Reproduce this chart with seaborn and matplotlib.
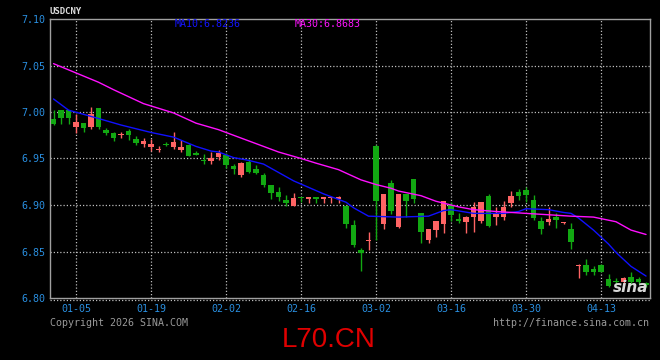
import matplotlib
matplotlib.use("Agg")
import numpy as np
import pandas as pd
import seaborn as sns
import matplotlib.pyplot as plt
import matplotlib.transforms as mtransforms

# ---------------- data ----------------
dates = pd.bdate_range("2025-12-31", periods=80)

open_ = [6.9928, 7.0022, 7.0022, 6.9842, 6.9878, 6.9842, 7.0040, 6.9806, 6.9771, 6.9750,
         6.9799, 6.9706, 6.9653, 6.9620, 6.9588, 6.9656, 6.9627, 6.9591, 6.9645, 6.9559,
         6.9481, 6.9473, 6.9516, 6.9538, 6.9423, 6.9323, 6.9459, 6.9384, 6.9323, 6.9215,
         6.9143, 6.9054, 6.8989, 6.9089, 6.9068, 6.9089, 6.9068, 6.9072, 6.9065, 6.8989,
         6.8785, 6.8516, 6.8613, 6.9634, 6.8796, 6.9240, 6.8760, 6.9118, 6.9280, 6.8911,
         6.8624, 6.8731, 6.8796, 6.9000, 6.8846, 6.8820, 6.8874, 6.8831, 6.9097, 6.8868,
         6.8868, 6.9018, 6.9137, 6.9161, 6.9054, 6.8831, 6.8820, 6.8874, 6.8806, 6.8742,
         6.8344, 6.8355, 6.8312, 6.8355, 6.8204, 6.8179, 6.8169, 6.8229, 6.8204, 6.8151]

close_ = [6.9871, 6.9935, 6.9935, 6.9889, 6.9831, 6.9978, 6.9842, 6.9771, 6.9724, 6.9760,
          6.9753, 6.9663, 6.9691, 6.9653, 6.9602, 6.9648, 6.9674, 6.9627, 6.9530, 6.9538,
          6.9473, 6.9502, 6.9559, 6.9430, 6.9387, 6.9452, 6.9358, 6.9347, 6.9215, 6.9126,
          6.9089, 6.9025, 6.9072, 6.9072, 6.9089, 6.9068, 6.9089, 6.9086, 6.9081, 6.8796,
          6.8570, 6.8480, 6.8624, 6.9043, 6.9118, 6.8935, 6.9118, 6.9043, 6.9064, 6.8713,
          6.8742, 6.8828, 6.9043, 6.8892, 6.8831, 6.8868, 6.8982, 6.9035, 6.8777, 6.8911,
          6.8982, 6.9097, 6.9097, 6.9108, 6.8863, 6.8739, 6.8846, 6.8839, 6.8820, 6.8599,
          6.8350, 6.8283, 6.8283, 6.8283, 6.8132, 6.8172, 6.8212, 6.8169, 6.8175, 6.8145]

high_ = [7.0025, 7.0022, 7.0022, 6.9978, 6.9878, 7.0057, 7.0040, 6.9825, 6.9782, 6.9788,
         6.9817, 6.9742, 6.9717, 6.9706, 6.9638, 6.9681, 6.9788, 6.9699, 6.9653, 6.9581,
         6.9545, 6.9567, 6.9591, 6.9556, 6.9438, 6.9459, 6.9491, 6.9430, 6.9347, 6.9215,
         6.9197, 6.9108, 6.9126, 6.9089, 6.9089, 6.9089, 6.9089, 6.9086, 6.9102, 6.8989,
         6.8839, 6.8534, 6.8713, 6.9645, 6.9118, 6.9269, 6.9118, 6.9118, 6.9280, 6.8911,
         6.8742, 6.8828, 6.9046, 6.9035, 6.8911, 6.8882, 6.9035, 6.9035, 6.9118, 6.8982,
         6.9046, 6.9154, 6.9169, 6.9197, 6.9108, 6.8868, 6.8982, 6.8911, 6.8820, 6.8803,
         6.8362, 6.8419, 6.8344, 6.8366, 6.8258, 6.8218, 6.8229, 6.8283, 6.8229, 6.8169]

low_ = [6.9863, 6.9871, 6.9871, 6.9771, 6.9781, 6.9820, 6.9820, 6.9753, 6.9691, 6.9717,
        6.9699, 6.9642, 6.9627, 6.9584, 6.9567, 6.9631, 6.9602, 6.9573, 6.9530, 6.9534,
        6.9438, 6.9438, 6.9484, 6.9401, 6.9330, 6.9304, 6.9347, 6.9333, 6.9197, 6.9064,
        6.9046, 6.8989, 6.8989, 6.9035, 6.9025, 6.9025, 6.9025, 6.9025, 6.9025, 6.8750,
        6.8552, 6.8293, 6.8516, 6.8624, 6.8742, 6.8903, 6.8750, 6.8874, 6.9025, 6.8595,
        6.8588, 6.8653, 6.8702, 6.8831, 6.8803, 6.8696, 6.8713, 6.8803, 6.8760, 6.8785,
        6.8839, 6.8982, 6.9054, 6.9035, 6.8839, 6.8688, 6.8785, 6.8749, 6.8792, 6.8527,
        6.8212, 6.8247, 6.8247, 6.8276, 6.8121, 6.8140, 6.8140, 6.8140, 6.8151, 6.8121]

ma10_idx = [0, 2, 6, 9, 13, 16, 19, 21, 22, 24, 26, 28, 30, 32, 34, 36, 37, 39, 40, 42,
            46, 50, 52, 53, 56, 58, 60, 62, 63, 66, 68, 69, 70, 72, 74, 75, 77, 79]
ma10 = [7.014, 7.002, 6.993, 6.986, 6.978, 6.973, 6.963, 6.958, 6.957, 6.951,
        6.948, 6.944, 6.935, 6.926, 6.919, 6.912, 6.909, 6.903, 6.897, 6.888,
        6.887, 6.888, 6.894, 6.895, 6.891, 6.891, 6.891, 6.893, 6.896, 6.895,
        6.892, 6.891, 6.886, 6.873, 6.858, 6.849, 6.834, 6.8236]

ma30_idx = [0, 6, 8, 12, 16, 19, 22, 24, 27, 30, 33, 35, 38, 41, 43, 45, 46, 49, 51, 54,
            56, 59, 61, 63, 67, 69, 72, 75, 77, 79]
ma30 = [7.052, 7.032, 7.024, 7.009, 6.999, 6.988, 6.981, 6.975, 6.966, 6.957,
        6.950, 6.945, 6.938, 6.927, 6.922, 6.918, 6.915, 6.910, 6.904, 6.898,
        6.895, 6.893, 6.892, 6.891, 6.889, 6.888, 6.887, 6.882, 6.873, 6.8683]

y_ticks = [6.80, 6.85, 6.90, 6.95, 7.00, 7.05, 7.10]
x_tick_labels = ["01-05", "01-19", "02-02", "02-16", "03-02", "03-16", "03-30", "04-13"]

# ---------------- style ----------------
sns.set_style("dark", rc={"axes.facecolor": "black", "figure.facecolor": "black"})
plt.rcParams["font.family"] = ["DejaVu Sans Mono", "DejaVu Sans"]

UP = "#ff6464"
DOWN = "#12a812"
TICK_BLUE = "#2a8fe0"
GRID = "#bdbdbd"
SPINE = "#a0a0a0"
MONO = 7.2

fig = plt.figure(figsize=(6.6, 3.6), dpi=100)
fig.patch.set_facecolor("black")
ax = fig.add_axes([50 / 660, 62 / 360, 600 / 660, 279 / 360])
ax.set_facecolor("black")
ax.grid(False)

df = pd.DataFrame({"date": dates, "open": open_, "high": high_, "low": low_, "close": close_})
df["i"] = np.arange(len(df))
df["up"] = df["close"] >= df["open"]
df["color"] = np.where(df["up"], UP, DOWN)
df["bottom"] = df[["open", "close"]].min(axis=1)
df["height"] = (df["close"] - df["open"]).abs().clip(lower=0.0011)

# gridlines
dots = (0, (1, 1.6))
for yv in y_ticks[1:-1]:
    ax.axhline(yv, color=GRID, lw=0.9, ls=dots, zorder=0.5)
tick_pos = [int(np.where(df["date"].dt.strftime("%m-%d") == lab)[0][0]) for lab in x_tick_labels]
for xv in tick_pos:
    ax.axvline(xv, color=GRID, lw=0.9, ls=dots, zorder=0.5)
# dotted line just below the bottom frame
off = mtransforms.offset_copy(ax.transAxes, fig=fig, x=0, y=-2, units="dots")
ax.plot([0, 1], [0, 0], transform=off, color=GRID, lw=0.9, ls=dots, clip_on=False)

# candles
ax.vlines(df["i"], df["low"], df["high"], colors=df["color"], lw=1.0, zorder=2)
ax.bar(df["i"], df["height"], bottom=df["bottom"], width=0.78, color=df["color"],
       linewidth=0, zorder=3)

# moving averages
sns.lineplot(x=ma10_idx, y=ma10, ax=ax, color="#1010ff", lw=1.0, zorder=4)
sns.lineplot(x=ma30_idx, y=ma30, ax=ax, color="#ff10ff", lw=1.0, zorder=4)

ax.set_xlim(-0.47, 79.53)
ax.set_ylim(6.80, 7.10)

ax.set_yticks(y_ticks)
ax.set_yticklabels([f"{v:.2f}" for v in y_ticks])
ax.set_xticks(tick_pos)
ax.set_xticklabels(x_tick_labels)
ax.tick_params(axis="both", length=0, colors=TICK_BLUE, labelsize=MONO)
ax.tick_params(axis="y", pad=3)
ax.tick_params(axis="x", pad=4)
ax.set_xlabel("")
ax.set_ylabel("")
for s in ax.spines.values():
    s.set_visible(True)
    s.set_color(SPINE)
    s.set_linewidth(1.0)

# texts
fig.text(50 / 660, 1 - 12 / 360, "USDCNY", color="#dddddd", fontsize=6.5,
         va="center", ha="left", weight="bold")
fig.text(175 / 660, 1 - 24 / 360, f"MA10:{ma10[-1]:.4f}", color="#1414ff",
         fontsize=MONO, va="center", ha="left")
fig.text(295 / 660, 1 - 24 / 360, f"MA30:{ma30[-1]:.4f}", color="#ff14ff",
         fontsize=MONO, va="center", ha="left")
fig.text(50 / 660, 1 - 323 / 360, "Copyright 2026 SINA.COM", color="#9a9a9a",
         fontsize=MONO, va="center", ha="left")
fig.text(649 / 660, 1 - 323 / 360, "http://finance.sina.com.cn", color="#9a9a9a",
         fontsize=MONO, va="center", ha="right")
fig.text(329 / 660, 1 - 340 / 360, "L70.CN", color="#e00000", fontsize=20,
         va="center", ha="center", family=["Liberation Sans", "DejaVu Sans"])
ax.text(0.997, 0.012, "sina", transform=ax.transAxes, ha="right", va="bottom",
        fontsize=11, style="italic", weight="bold", color="#d8d8d8",
        family=["DejaVu Sans"], zorder=6)

fig.savefig("out.png", dpi=100, facecolor="black")
